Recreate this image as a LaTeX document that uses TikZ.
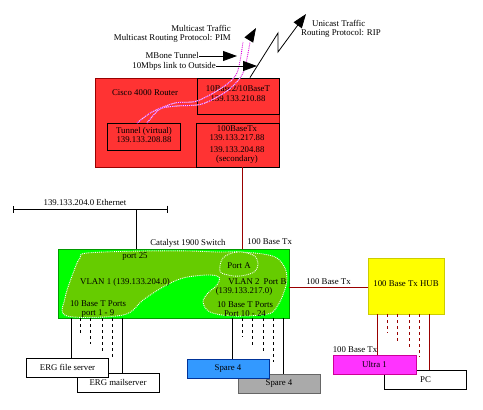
\documentclass[tikz,border=0pt]{standalone}
\usepackage{fontspec}
\setmainfont{Liberation Serif}
\usetikzlibrary{positioning}
\usetikzlibrary{calc}
\usetikzlibrary{arrows.meta}
\definecolor{routerred}{HTML}{FF3333}
\definecolor{darkred}{HTML}{990000}
\definecolor{swgreen}{HTML}{00FF00}
\definecolor{swborder}{HTML}{009900}
\definecolor{vlangreen}{HTML}{66CC00}
\definecolor{hubyellow}{HTML}{FFFF00}
\definecolor{hubborder}{HTML}{CCCC00}
\definecolor{ultrapink}{HTML}{FF33FF}
\definecolor{ultraborder}{HTML}{CC0099}
\definecolor{spareblue}{HTML}{3399FF}
\definecolor{blueborder}{HTML}{003399}
\definecolor{sparegray}{HTML}{AAAAAA}
\definecolor{grayborder}{HTML}{666666}
\definecolor{tunnelpink}{HTML}{DD00DD}
\tikzstyle{box}=[rectangle,draw=black,line width=0.9pt,inner sep=0pt]
\tikzstyle{hostbox}=[box,fill=white,minimum width=82pt,minimum height=19pt]
\tikzstyle{lbl}=[inner sep=0pt,align=center,text=black,font=\fontsize{8.8}{9.6}\selectfont]
\tikzstyle{wire}=[draw,line width=0.9pt]
\tikzstyle{redwire}=[wire,darkred]
\tikzstyle{dashwire}=[draw,line width=0.9pt,dash pattern=on 3pt off 3pt]
\tikzstyle{vlan}=[fill=vlangreen,draw=white,line width=0.9pt,densely dotted]
\tikzset{bigarrow/.style={draw,line width=0.8pt,-{Triangle[length=14pt,width=10pt]}}}

\begin{document}
\begin{tikzpicture}[x=1pt,y=-1pt]
  \useasboundingbox (0,0) rectangle (483,410);

  % router
  \node[box,draw=darkred,fill=routerred,minimum width=184pt,minimum height=89pt] (router) at (187,122.5) {};
  \node[box,minimum width=82pt,minimum height=36pt] (port10) at (238,96) {};
  \node[box,minimum width=83pt,minimum height=44pt] (port100) at (237.5,145) {};
  \node[box,minimum width=73pt,minimum height=27pt] (tunnel) at (143.5,136.5) {};
  \node[lbl] (cisco) at (145,93) {Cisco 4000 Router};
  \node[lbl] (port10txt) at (238,93.5) {10Base2/10BaseT\\139.133.210.88};
  \node[lbl] (tunneltxt) at (144,135) {Tunnel (virtual)\\139.133.208.88};
  \node[lbl] (port100a) at (237,133) {100BaseTx\\139.133.217.88};
  \node[lbl] (port100b) at (237,155) {139.133.204.88\\(secondary)};

  % multicast tunnel
  \foreach \c/\dsh in {white/solid, tunnelpink/densely dotted}
    \draw[\c,line width=0.9pt,\dsh]
      plot[smooth,tension=0.5] coordinates {(137,123) (152,112) (175,103) (197,101) (223,87) (237,73) (243,42)}
      plot[smooth,tension=0.5] coordinates {(147,123) (160,109) (177,106) (202,104) (227,91) (243,73) (250,42)};
  \coordinate (mcbase) at (250,38);
  \coordinate (mctip) at (256,28);
  \draw[bigarrow] (mcbase) -- (mctip);
  \node[lbl,anchor=east] (mctxt) at (231,28) {Multicast Traffic};
  \node[lbl,anchor=east] (mcproto) at (231,38) {Multicast Routing Protocol: PIM};

  % tunnel and link arrows
  \node[lbl,anchor=east] (mbone) at (199,55) {MBone Tunnel};
  \coordinate (mbonetip) at (237,56);
  \draw[bigarrow] (mbone.east |- mbonetip) -- (mbonetip);
  \node[lbl,anchor=east] (outside) at (216,66) {10Mbps link to Outside};
  \coordinate (outsidetip) at (257,66);
  \draw[bigarrow] (outside.east |- outsidetip) -- (outsidetip);

  % unicast
  \coordinate (uc1) at (278,33);
  \coordinate (uc2) at (278,52);
  \coordinate (uctip) at (306,14);
  \draw[bigarrow] (250,0 |- router.north) -- (uc1) -- (uc2) -- (uctip);
  \node[lbl,anchor=west] (uctxt) at (312,23) {Unicast Traffic};
  \node[lbl,anchor=west] (ucproto) at (301,33) {Routing Protocol: RIP};

  % ethernet
  \coordinate (ethl) at (13,209);
  \coordinate (ethr) at (168,209);
  \coordinate (ethtap) at (136,209);
  \draw[wire,{Bar[width=7pt]}-{Bar[width=7pt]}] (ethl) -- (ethr);
  \node[lbl] (ethtxt) at (85,203) {139.133.204.0 Ethernet};

  % switch
  \node[box,draw=swborder,fill=swgreen,minimum width=231pt,minimum height=69pt] (switch) at (173.5,283.5) {};
  \draw[vlan] plot[smooth cycle,tension=0.55] coordinates {
    (87,253) (143,251) (190,251) (217,252) (240,252) (263,254) (277,258) (285,268)
    (287,280) (284,292) (278,305) (268,314) (233,316) (210,312) (203,302) (208,293)
    (217,285) (219,277) (207,275) (183,278) (163,287) (143,300) (123,315) (67,316)
    (65,298) (75,268) (80,258)};
  \draw[vlan] plot[smooth cycle,tension=0.6] coordinates {
    (223,258) (237,252) (253,255) (258,263) (254,272) (240,276) (228,275) (220,271)};
  \node[lbl] (swtxt) at (188,243) {Catalyst 1900 Switch};
  \node[lbl] (port25) at (135,257) {port 25};
  \node[lbl] (vlan1) at (125,282) {VLAN 1 (139.133.204.0)};
  \node[lbl] (porta) at (239,266) {Port A};
  \node[lbl] (vlan2) at (244,287) {VLAN 2\\(139.133.217.0)};
  \node[lbl] (portb) at (275,282) {Port B};
  \node[lbl] (ports1) at (98,309) {10 Base T Ports\\port 1 - 9};
  \node[lbl] (ports2) at (245,309) {10 Base T Ports\\Port 10 - 24};

  % hub
  \node[box,draw=hubborder,fill=hubyellow,minimum width=76pt,minimum height=56pt] (hub) at (406,286) {};
  \node[lbl] (hubtxt) at (406,284) {100 Base Tx HUB};

  % hosts
  \node[hostbox,draw=grayborder,fill=sparegray] (spare2) at (279,383.5) {};
  \node[hostbox,draw=blueborder,fill=spareblue] (spare1) at (228,368.5) {};
  \node[hostbox] (mailserv) at (118,382.5) {};
  \node[hostbox] (fileserv) at (67.5,367.5) {};
  \node[hostbox] (pc) at (425.5,379.5) {};
  \node[hostbox,minimum width=83pt,draw=ultraborder,fill=ultrapink] (ultra) at (374.5,364.5) {};
  \foreach \name/\label in {spare2/Spare 4, spare1/Spare 4, mailserv/ERG mailserver, fileserv/ERG file server, pc/PC, ultra/Ultra 1}
    \node[lbl] (\name txt) at (\name) {\label};

  % links
  \path[redwire] (242,0 |- port100.south) -- node[lbl,pos=1,anchor=south west,xshift=5pt,yshift=4pt] (txlbl1) {100 Base Tx} (242,0 |- switch.north);
  \path[wire] (ethtap) -- (136,0 |- switch.north);
  \path[redwire] (switch.east |- 0,287) -- node[lbl,above=2pt] (txlbl2) {100 Base Tx} (hub.west |- 0,287);
  \node[lbl] (txlbl3) at (355,350) {100 Base Tx};

  % ports
  \foreach \x/\dest in {71/fileserv, 122/mailserv, 232/spare1, 283/spare2}
    \path[wire] (\x,0 |- switch.south) -- (\x,0 |- \dest.north);
  \foreach \x/\y in {80/335, 90/344, 102/353, 112/360, 242/337, 252/345, 263/354, 273/362}
    \path[dashwire] (\x,0 |- switch.south) -- (\x,\y);
  \foreach \x/\dest in {377/ultra, 429/pc}
    \path[redwire] (\x,0 |- hub.south) -- (\x,0 |- \dest.north);
  \foreach \x/\y in {387/333, 397/341, 409/350, 419/357}
    \path[dashwire,darkred] (\x,0 |- hub.south) -- (\x,\y);

\end{tikzpicture}
\end{document}
